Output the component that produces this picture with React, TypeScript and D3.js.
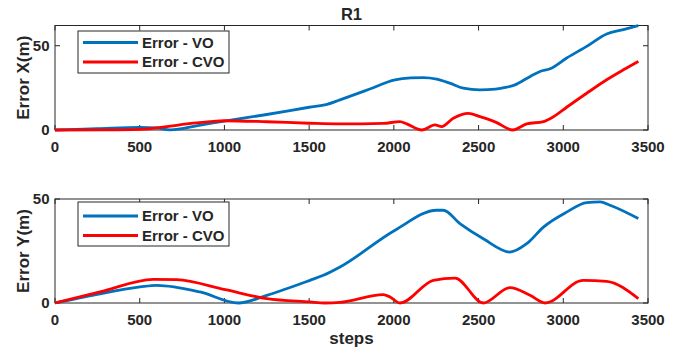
import React from "react";
import * as d3 from "d3";

const xTicks = [0, 500, 1000, 1500, 2000, 2500, 3000, 3500];
const yTicksTop = [0, 50];
const yTicksBottom = [0, 50];

// Top panel: Error X
const voXSteps = [0, 250, 500, 600, 680, 850, 1000, 1250, 1500, 1605, 1682, 1850, 2007, 2100, 2174, 2253, 2330, 2410, 2508, 2600, 2666, 2715, 2800, 2863, 2922, 3020, 3138, 3256, 3355, 3443];
const voXValues = [0, 0.8, 1.6, 1.2, 0.1, 2.8, 5.3, 9.2, 13.5, 15.2, 17.9, 24.0, 29.8, 30.9, 31.1, 30.2, 27.8, 24.8, 23.8, 24.2, 25.4, 26.8, 31.5, 34.7, 36.3, 42.7, 49.6, 57.0, 59.5, 61.9];
const cvoXSteps = [0, 300, 500, 659, 777, 915, 1000, 1250, 1500, 1682, 1938, 2036, 2076, 2165, 2243, 2282, 2351, 2440, 2508, 2607, 2702, 2784, 2883, 2942, 3020, 3138, 3256, 3355, 3443];
const cvoXValues = [0, 0.1, 0.4, 2.0, 3.6, 5.0, 5.5, 4.9, 4.0, 3.6, 3.9, 5.0, 3.6, 0, 3.0, 2.0, 7.0, 9.9, 7.9, 4.4, 0, 3.6, 5.0, 7.9, 13.5, 21.8, 29.8, 35.7, 40.7];

// Bottom panel: Error Y
const voYSteps = [0, 250, 502, 600, 856, 1082, 1250, 1505, 1584, 1682, 2007, 2253, 2292, 2390, 2528, 2685, 2784, 2883, 3020, 3138, 3217, 3276, 3443];
const voYValues = [0, 4.2, 7.7, 8.5, 5.3, 0, 3.7, 10.9, 13.3, 17.3, 35.0, 44.6, 44.6, 38.2, 30.9, 24.5, 28.5, 36.5, 43.7, 48.3, 48.6, 47.0, 40.6];
const cvoYSteps = [0, 266, 580, 718, 1005, 1250, 1505, 1594, 1682, 1938, 1977, 2036, 2233, 2361, 2528, 2685, 2804, 2893, 3118, 3256, 3443];
const cvoYValues = [0, 5.3, 11.4, 11.2, 6.4, 2.1, 0.5, 0, 0.3, 4.0, 2.9, 0, 10.9, 12.0, 0, 7.4, 3.7, 0, 10.9, 10.4, 2.1];

const seriesNames = ["Error - VO", "Error - CVO"];
const BLUE = "#0072BD";
const RED = "#FF0000";
const AXC = "#262626";
const FONT = "'Liberation Sans', Arial, sans-serif";

type PanelProps = {
  top: number;
  bottom: number;
  yMax: number;
  yTicks: number[];
  vo: [number[], number[]];
  cvo: [number[], number[]];
  ylabel: string;
  legendRows: [number, number];
  legendBox: [number, number];
};

const L = 55;
const R = 648;

function Panel(p: PanelProps) {
  const x = d3.scaleLinear().domain([0, 3500]).range([L, R]);
  const y = d3.scaleLinear().domain([0, p.yMax]).range([p.bottom, p.top]);
  const line = d3
    .line<[number, number]>()
    .x((d) => x(d[0]))
    .y((d) => y(d[1]))
    .curve(d3.curveMonotoneX);
  const mk = (s: [number[], number[]]) => s[0].map((v, i) => [v, s[1][i]] as [number, number]);
  const tl = 5;
  return (
    <g>
      <defs>
        <clipPath id={`clip${p.top}`}>
          <rect x={L} y={p.top - 2} width={R - L} height={p.bottom - p.top + 4} />
        </clipPath>
      </defs>
      <rect x={L} y={p.top} width={R - L} height={p.bottom - p.top} fill="white" stroke={AXC} strokeWidth={1} />
      {xTicks.map((t) => (
        <g key={t}>
          <line x1={x(t)} x2={x(t)} y1={p.bottom} y2={p.bottom - tl} stroke={AXC} />
          <line x1={x(t)} x2={x(t)} y1={p.top} y2={p.top + tl} stroke={AXC} />
          <text x={x(t)} y={p.bottom + 22} textAnchor="middle" fontSize={15} fontWeight="bold" fill={AXC} fontFamily={FONT}>
            {t}
          </text>
        </g>
      ))}
      {p.yTicks.map((t) => (
        <g key={t}>
          <line x1={L} x2={L + tl} y1={y(t)} y2={y(t)} stroke={AXC} />
          <line x1={R} x2={R - tl} y1={y(t)} y2={y(t)} stroke={AXC} />
          <text x={49.5} y={y(t)} dy="0.36em" textAnchor="end" fontSize={15} fontWeight="bold" fill={AXC} fontFamily={FONT}>
            {t}
          </text>
        </g>
      ))}
      <g clipPath={`url(#clip${p.top})`}>
        <path d={line(mk(p.vo)) || ""} fill="none" stroke={BLUE} strokeWidth={2.8} strokeLinejoin="round" />
        <path d={line(mk(p.cvo)) || ""} fill="none" stroke={RED} strokeWidth={2.8} strokeLinejoin="round" />
      </g>
      <text
        transform={`translate(29,${(p.top + p.bottom) / 2}) rotate(-90)`}
        textAnchor="middle"
        fontSize={17}
        fontWeight="bold"
        fill={AXC}
        fontFamily={FONT}
      >
        {p.ylabel}
      </text>
      <rect x={78} y={p.legendBox[0]} width={151} height={p.legendBox[1] - p.legendBox[0]} fill="white" stroke={AXC} strokeWidth={1} />
      {seriesNames.map((n, i) => (
        <g key={n}>
          <line x1={83} x2={138} y1={p.legendRows[i]} y2={p.legendRows[i]} stroke={i === 0 ? BLUE : RED} strokeWidth={2.8} />
          <text x={142} y={p.legendRows[i]} dy="0.36em" fontSize={15} fontWeight="bold" fill={AXC} fontFamily={FONT}>
            {n}
          </text>
        </g>
      ))}
    </g>
  );
}

export default function App() {
  return (
    <svg width={679} height={350} style={{ position: "absolute", left: 0, top: 0, background: "white" }}>
      <rect width={679} height={350} fill="white" />
      <text x={(L + R) / 2} y={20} textAnchor="middle" fontSize={16.5} fontWeight="bold" fill={AXC} fontFamily={FONT}>
        R1
      </text>
      <Panel
        top={25.5}
        bottom={130}
        yMax={62}
        yTicks={yTicksTop}
        vo={[voXSteps, voXValues]}
        cvo={[cvoXSteps, cvoXValues]}
        ylabel="Error X(m)"
        legendRows={[42.5, 62]}
        legendBox={[31, 73]}
      />
      <Panel
        top={199}
        bottom={303}
        yMax={50}
        yTicks={yTicksBottom}
        vo={[voYSteps, voYValues]}
        cvo={[cvoYSteps, cvoYValues]}
        ylabel="Error Y(m)"
        legendRows={[216, 235.5]}
        legendBox={[202, 246]}
      />
      <text x={(L + R) / 2} y={344} textAnchor="middle" fontSize={17} fontWeight="bold" fill={AXC} fontFamily={FONT}>
        steps
      </text>
    </svg>
  );
}
